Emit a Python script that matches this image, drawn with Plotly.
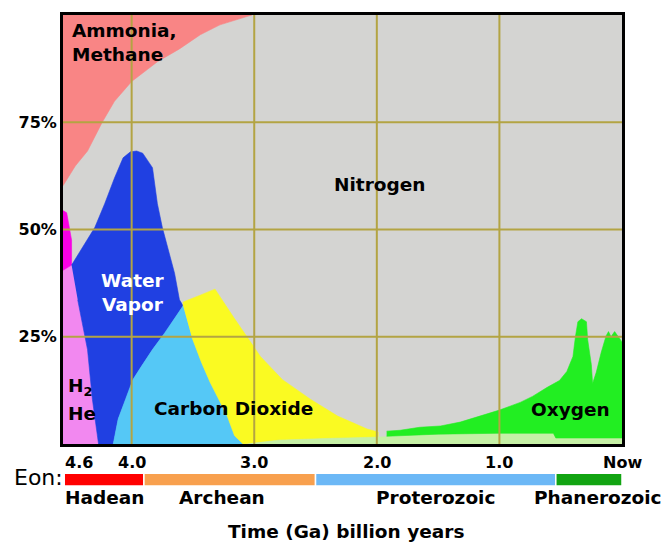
import plotly.graph_objects as go

# ---------------- data (time in billions of years ago, share in %) ----------------
T_START, T_END = 4.56, 0.0

nitrogen_t = [4.56, 0.0]
nitrogen_p = [100, 100]

ammonia_t = [4.56, 4.46, 4.36, 4.24, 4.14, 4.00, 3.79, 3.61, 3.44, 3.28, 3.02, 4.56]
ammonia_p = [60.2, 64.8, 68.3, 75.0, 79.9, 84.5, 89.1, 92.1, 95.4, 97.7, 100, 100]

h2he_t = [4.56, 4.56, 4.49, 4.44, 4.36, 4.32, 4.27]
h2he_p = [0, 40.5, 41.7, 33.6, 22.0, 10.4, 0]

magenta_t = [4.56, 4.53, 4.49, 4.49, 4.56]
magenta_p = [54.4, 53.9, 47.5, 41.7, 40.5]

water_t = [4.49, 4.38, 4.30, 4.22, 4.14, 4.07, 4.01, 3.96, 3.91, 3.83, 3.81, 3.79, 3.75,
           3.70, 3.65, 3.61, 3.58, 3.73, 3.83, 3.92, 3.99, 4.05, 4.11, 4.15, 4.27, 4.32,
           4.36, 4.44]
water_p = [41.7, 46.8, 50.5, 56.0, 62.0, 66.7, 68.1, 68.3, 67.8, 64.4, 60.6, 56.0, 50.5,
           45.1, 39.8, 33.6, 32.2, 25.9, 22.0, 18.1, 15.0, 10.4, 5.8, 0, 0, 10.4,
           22.0, 33.6]

co2_t = [4.15, 4.11, 4.05, 3.99, 3.92, 3.83, 3.73, 3.58, 3.51, 3.43, 3.36, 3.22, 3.16, 3.09]
co2_p = [0, 5.8, 10.4, 15.0, 18.1, 22.0, 25.9, 32.2, 25.0, 19.0, 14.4, 6.5, 1.9, 0]

yellow_t = [3.58, 3.58, 3.44, 3.32, 3.17, 3.06, 2.95, 2.77, 2.54, 2.32, 2.08, 1.99, 1.99,
            2.40, 2.80, 3.09, 3.16, 3.22, 3.36, 3.43, 3.51]
yellow_p = [32.2, 33.1, 34.7, 36.1, 29.6, 25.0, 20.4, 15.0, 10.4, 6.5, 3.5, 2.8, 1.6,
            1.3, 0.9, 0, 1.9, 6.5, 14.4, 19.0, 25.0]

pale_t = [3.05, 2.80, 2.40, 2.00, 1.50, 1.00, 0.56, 0.54, 0.00, 0.00]
pale_p = [0, 0.9, 1.3, 1.6, 2.3, 2.5, 2.5, 1.4, 1.4, 0]

o2_t = [1.92, 1.81, 1.65, 1.48, 1.32, 1.16, 1.00, 0.83, 0.73, 0.61, 0.55, 0.51, 0.45,
        0.40, 0.38, 0.36, 0.33, 0.29, 0.28, 0.25, 0.24, 0.21, 0.17, 0.13, 0.11, 0.09,
        0.06, 0.03, 0.00, 0.00, 0.54, 0.56, 1.00, 1.50, 1.92]
o2_p = [3.0, 3.2, 3.9, 4.2, 5.1, 6.5, 7.9, 9.7, 11.1, 13.2, 14.1, 14.8, 16.9,
        20.4, 25.0, 28.5, 29.2, 28.5, 24.3, 18.5, 14.1, 16.7, 21.3, 25.2, 26.2, 25.0,
        26.2, 25.0, 23.8, 1.4, 1.4, 2.5, 2.5, 2.3, 1.8]

x_tick_vals = [4.6, 4.0, 3.0, 2.0, 1.0, 0.0]
x_tick_text = ["4.6", "4.0", "3.0", "2.0", "1.0", "Now"]
y_tick_vals = [25, 50, 75]
y_tick_text = ["25%", "50%", "75%"]

eon_names = ["Hadean", "Archean", "Proterozoic", "Phanerozoic"]
eon_bounds = [4.55, 3.90, 2.50, 0.54, 0.0]
eon_colors = ["#FF0000", "#F8A04E", "#6CB8F6", "#12A412"]

FONT = "DejaVu Sans"
GRID = "#B3A443"

layers = [
    ("Nitrogen", nitrogen_t, nitrogen_p, "#D4D4D2", "tozeroy"),
    ("Ammonia, Methane", ammonia_t, ammonia_p, "#F98585", "toself"),
    ("H2 He", h2he_t, h2he_p, "#F288F0", "toself"),
    ("Other", magenta_t, magenta_p, "#F800E4", "toself"),
    ("Water Vapor", water_t, water_p, "#2040E2", "toself"),
    ("Carbon Dioxide", co2_t, co2_p, "#55C8F6", "toself"),
    ("Carbon Dioxide (late)", yellow_t, yellow_p, "#FAFA22", "toself"),
    ("Trace", pale_t, pale_p, "#C6F0A6", "toself"),
    ("Oxygen", o2_t, o2_p, "#22EE22", "toself"),
]

fig = go.Figure()
for name, t, p, col, fill in layers:
    fig.add_trace(go.Scatter(x=t, y=p, name=name, mode="lines", fill=fill,
                             fillcolor=col, line=dict(color=col, width=0.6),
                             hoverinfo="name", showlegend=False))

shapes = []
for v in x_tick_vals:
    if T_END < v < T_START:
        shapes.append(dict(type="line", xref="x", yref="y", x0=v, x1=v, y0=0, y1=100,
                           line=dict(color=GRID, width=2), layer="above"))
for v in y_tick_vals:
    shapes.append(dict(type="line", xref="x", yref="y", x0=T_START, x1=T_END, y0=v, y1=v,
                       line=dict(color=GRID, width=2), layer="above"))
for i, nm in enumerate(eon_names):
    shapes.append(dict(type="rect", xref="x", yref="paper", x0=eon_bounds[i],
                       x1=eon_bounds[i + 1], y0=-0.098, y1=-0.068,
                       fillcolor=eon_colors[i], line=dict(color="white", width=1.5),
                       layer="above"))

bold = dict(family=FONT, size=18.5, color="black", weight="bold")
white_bold = dict(family=FONT, size=18.5, color="white", weight="bold")
ann = []
ann.append(dict(x=4.50, y=99.3, xref="x", yref="y", text="Ammonia,<br>Methane",
                xanchor="left", yanchor="top", align="left", showarrow=False, font=bold))
ann.append(dict(x=1.98, y=60.6, xref="x", yref="y", text="Nitrogen", showarrow=False, font=bold))
ann.append(dict(x=3.99, y=35.3, xref="x", yref="y", text="Water<br>Vapor", align="center",
                showarrow=False, font=white_bold))
ann.append(dict(x=4.535, y=13.4, xref="x", yref="y", text="H<sub>2</sub>", xanchor="left",
                showarrow=False, font=bold))
ann.append(dict(x=4.535, y=7.2, xref="x", yref="y", text="He", xanchor="left",
                showarrow=False, font=bold))
ann.append(dict(x=3.17, y=8.3, xref="x", yref="y", text="Carbon Dioxide", showarrow=False, font=bold))
ann.append(dict(x=0.42, y=8.0, xref="x", yref="y", text="Oxygen", showarrow=False, font=bold))

tickfont = dict(family=FONT, size=16, color="black", weight="bold")
for v, txt in zip(x_tick_vals, x_tick_text):
    if v >= T_START:
        ann.append(dict(x=T_START, y=-0.043, xref="x", yref="paper", text=txt,
                        xanchor="left", yanchor="middle", showarrow=False, font=tickfont))
    else:
        ann.append(dict(x=v, y=-0.043, xref="x", yref="paper", text=txt,
                        xanchor="center", yanchor="middle", showarrow=False, font=tickfont))

ann.append(dict(x=0.004, y=-0.079, xref="paper", yref="paper", text="Eon:",
                xanchor="right", yanchor="middle", showarrow=False,
                font=dict(family=FONT, size=22, color="black")))
eon_label_shift = [0, -8, 0, 9]
for i, nm in enumerate(eon_names):
    ann.append(dict(x=(eon_bounds[i] + eon_bounds[i + 1]) / 2, y=-0.124, xref="x",
                    yref="paper", text=nm, xanchor="center", yanchor="middle",
                    xshift=eon_label_shift[i], showarrow=False, font=bold))
ann.append(dict(x=0.506, y=-0.204, xref="paper", yref="paper",
                text="Time (Ga) billion years", xanchor="center", yanchor="middle",
                showarrow=False, font=bold))

fig.update_layout(
    width=665, height=544,
    margin=dict(l=63, r=43, t=12, b=100),
    paper_bgcolor="white", plot_bgcolor="#D4D4D2",
    shapes=shapes, annotations=ann, showlegend=False,
    xaxis=dict(range=[T_START, T_END], showgrid=False, zeroline=False,
               showticklabels=False, ticks="", showline=True, mirror=True,
               linecolor="black", linewidth=3, fixedrange=True),
    yaxis=dict(range=[0, 100], showgrid=False, zeroline=False, automargin=False,
               tickvals=y_tick_vals, ticktext=y_tick_text, ticks="",
               tickfont=tickfont, showline=True, mirror=True,
               linecolor="black", linewidth=3, fixedrange=True),
)

fig.write_html("out.html", config={"displayModeBar": False},
               post_script="document.body.style.margin='0px';document.body.style.overflow='hidden';")
